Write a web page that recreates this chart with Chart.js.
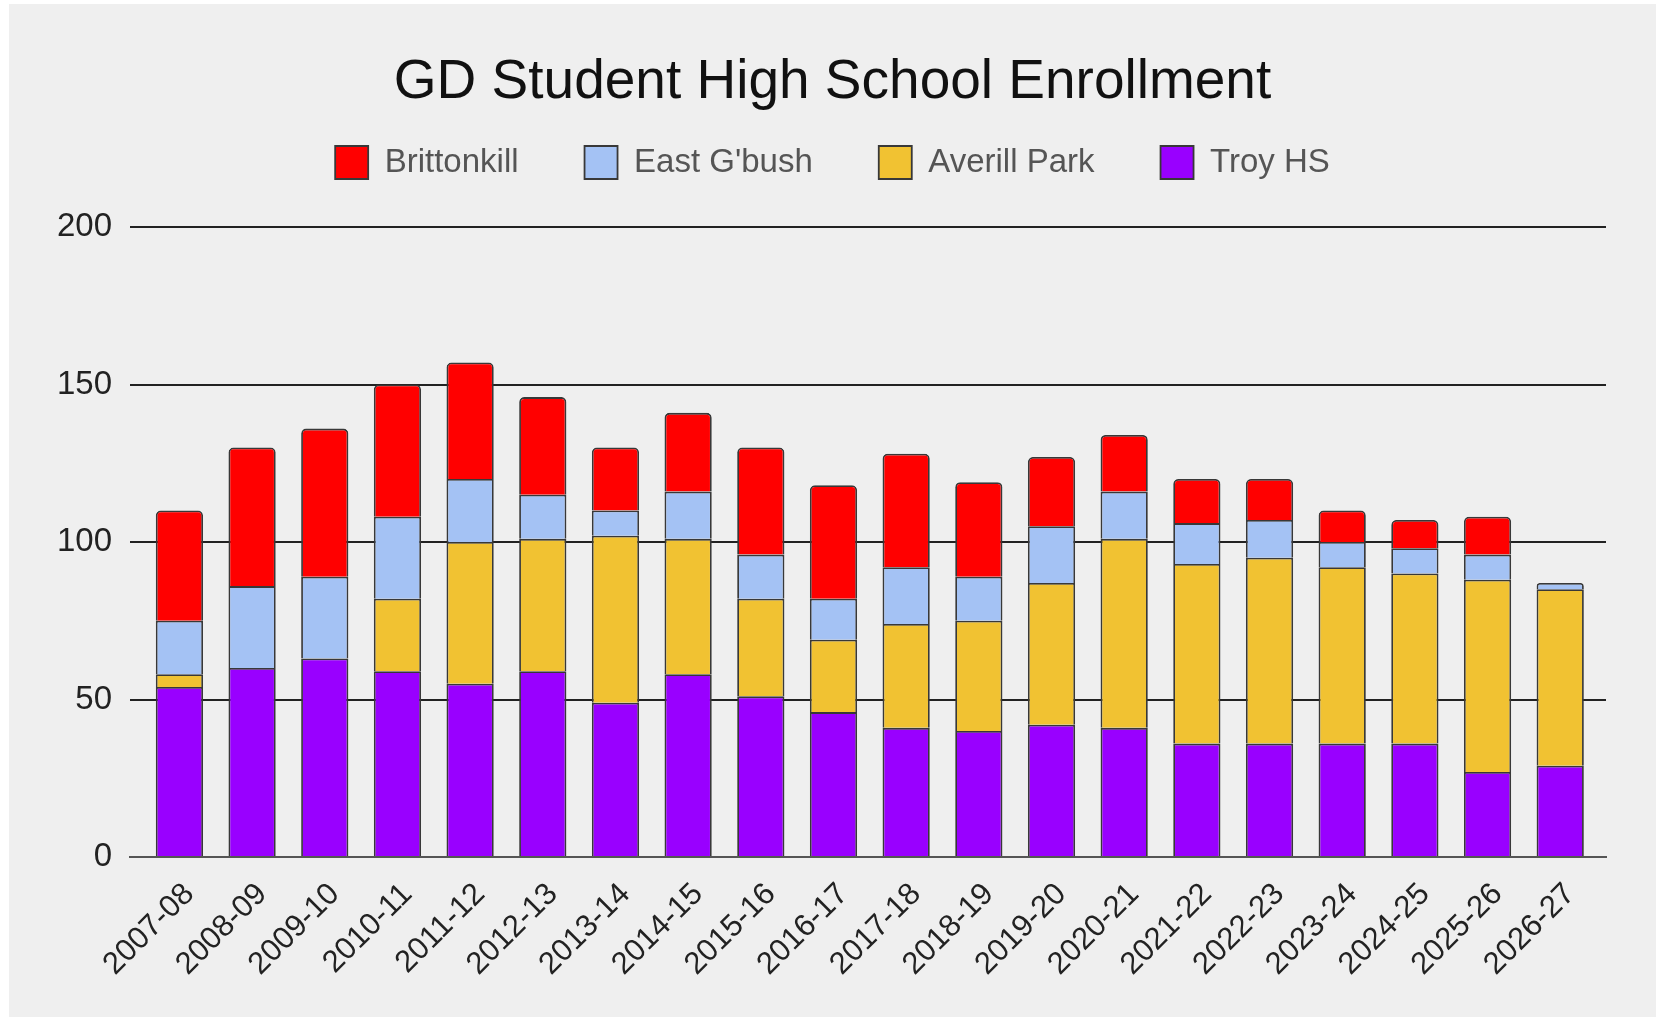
<!DOCTYPE html>
<html>
<head>
  <title>GD Student High School Enrollment</title>
  <script src="https://cdn.jsdelivr.net/npm/chart.js"></script>
  <style>
    body { margin: 0; background: #fff; font-family: "Liberation Sans", Arial, sans-serif; }
    #wrap { position: absolute; left: 9px; top: 4px; right: 0; bottom: 0; background: #efefef; }
  </style>
</head>
<body>

<div id="wrap"><canvas id="enrollChart"></canvas></div>

<script>
  const years = ['2007-08', '2008-09', '2009-10', '2010-11', '2011-12', '2012-13', '2013-14',
    '2014-15', '2015-16', '2016-17', '2017-18', '2018-19', '2019-20', '2020-21', '2021-22',
    '2022-23', '2023-24', '2024-25', '2025-26', '2026-27'];

  const troy      = [54, 60, 63, 59, 55, 59, 49, 58, 51, 46, 41, 40, 42, 41, 36, 36, 36, 36, 27, 29];
  const averill   = [4, 0, 0, 23, 45, 42, 53, 43, 31, 23, 33, 35, 45, 60, 57, 59, 56, 54, 61, 56];
  const eastGbush = [17, 26, 26, 26, 20, 14, 8, 15, 14, 13, 18, 14, 18, 15, 13, 12, 8, 8, 8, 2];
  const britton   = [35, 44, 47, 42, 37, 31, 20, 25, 34, 36, 36, 30, 22, 18, 14, 13, 10, 9, 12, null];

  const yTicks = [0, 50, 100, 150, 200];

  const font = '"Liberation Sans", Arial, sans-serif';

  function points(arr) {
    return arr.map((v, i) => ({ x: i, y: v }));
  }

  function makeSet(label, arr, color) {
    return {
      label: label,
      data: points(arr),
      backgroundColor: color,
      borderColor: '#383838',
      borderWidth: 1.8,
      borderRadius: 5,
      barPercentage: 0.65,
      categoryPercentage: 1
    };
  }

  // extra room under the legend
  const legendGap = {
    id: 'legendGap',
    beforeInit(chart) {
      const fit = chart.legend.fit;
      chart.legend.fit = function () {
        fit.bind(chart.legend)();
        this.height += 38;
      };
    }
  };

  new Chart(document.getElementById('enrollChart'), {
    type: 'bar',
    data: {
      datasets: [
        makeSet('Troy HS', troy, '#9900ff'),
        makeSet('Averill Park', averill, '#f1c232'),
        makeSet("East G'bush", eastGbush, '#a4c2f4'),
        makeSet('Brittonkill', britton, '#ff0000')
      ]
    },
    plugins: [legendGap],
    options: {
      responsive: true,
      maintainAspectRatio: false,
      animation: false,
      layout: { padding: 0 },
      plugins: {
        title: {
          display: true,
          text: 'GD Student High School Enrollment',
          color: '#111',
          font: { family: font, size: 55, weight: 'normal', lineHeight: 1.2 },
          padding: { top: 45.6, bottom: -35.6 }
        },
        legend: {
          reverse: true,
          labels: {
            boxWidth: 33,
            boxHeight: 33,
            padding: 66,
            color: '#555',
            font: { family: font, size: 33 }
          }
        },
        tooltip: { enabled: false }
      },
      scales: {
        x: {
          type: 'linear',
          stacked: true,
          offset: false,
          min: -0.68,
          max: 19.63,
          afterFit: s => { s.height = 160; },
          grid: { display: false },
          border: { display: true, color: '#555', width: 2 },
          ticks: {
            stepSize: 1,
            includeBounds: false,
            autoSkip: false,
            minRotation: 45,
            maxRotation: 45,
            padding: 11,
            labelOffset: 10,
            color: '#222',
            font: { family: font, size: 31 },
            callback: v => years[v] || ''
          }
        },
        y: {
          stacked: true,
          min: 0,
          max: 200,
          afterFit: s => { s.width = 121; },
          afterBuildTicks: s => { s.ticks = yTicks.map(v => ({ value: v })); },
          grid: { color: '#222', lineWidth: 2, drawTicks: false },
          border: { display: false },
          ticks: {
            padding: 18,
            color: '#222',
            font: { family: font, size: 33 }
          }
        },
        // empty right-hand strip so the plot stops short of the edge
        pad: {
          position: 'right',
          display: true,
          afterFit: s => { s.width = 50; },
          grid: { display: false },
          border: { display: false },
          ticks: { display: false }
        }
      }
    }
  });
</script>

</body>
</html>
